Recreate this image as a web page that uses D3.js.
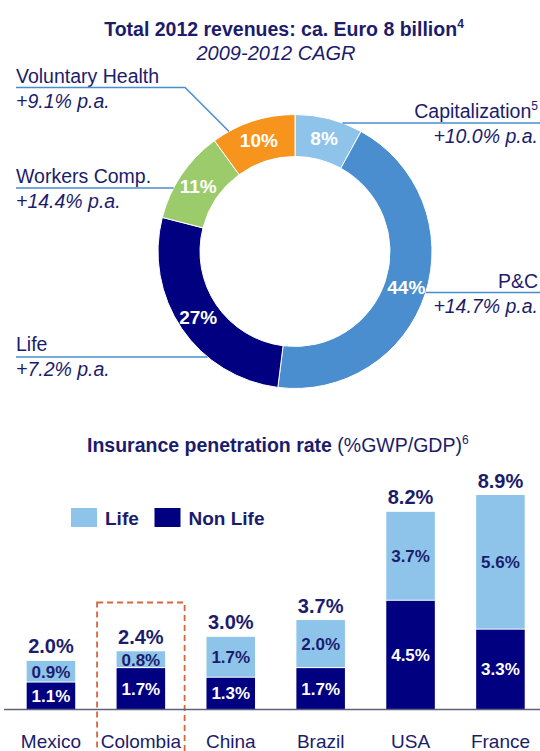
<!DOCTYPE html>
<html lang="en">
<head>
<meta charset="UTF-8">
<title>Revenues and insurance penetration</title>
<script src="https://d3js.org/d3.v7.min.js"></script>
<style>
    body { margin: 0; background: #fff; }
    svg text { font-family: "Liberation Sans", Arial, sans-serif; fill: #1c1c6c; }
    .lead { fill: none; stroke: #4a8ccf; stroke-width: 1.5px; }
</style>
</head>
<body>
<div id="chart"></div>
<script>
// donut data (clockwise from 12 o'clock)
const segNames = ["Capitalization", "P&C", "Life", "Workers Comp.", "Voluntary Health"];
const segShares = [8, 44, 27, 11, 10];
const segCagr = ["+10.0% p.a.", "+14.7% p.a.", "+7.2% p.a.", "+14.4% p.a.", "+9.1% p.a."];
const segNotes = ["5", "", "", "", ""];

// bar data
const countries = ["Mexico", "Colombia", "China", "Brazil", "USA", "France"];
const lifeRate = [0.9, 0.8, 1.7, 2.0, 3.7, 5.6];
const nonLifeRate = [1.1, 1.7, 1.3, 1.7, 4.5, 3.3];
const totalRate = [2.0, 2.4, 3.0, 3.7, 8.2, 8.9];
const highlight = "Colombia";

const W = 540, H = 751;
const svg = d3.select("#chart").append("svg")
    .attr("width", W).attr("height", H);

const navy = "#000080", lightBlue = "#8ec4ea";
const segColors = ["#8ec4ea", "#4a8ecf", "#000080", "#9bcb6b", "#f7941e"];

// ---- titles
const t1 = svg.append("text").attr("x", 284).attr("y", 36)
    .attr("text-anchor", "middle").attr("font-size", 19.5).attr("font-weight", "bold");
t1.append("tspan").text("Total 2012 revenues: ca. Euro 8 billion");
t1.append("tspan").attr("font-size", 12).attr("dy", -8).text("4");

svg.append("text").attr("x", 276).attr("y", 60)
    .attr("text-anchor", "middle").attr("font-size", 20).attr("font-style", "italic")
    .text("2009-2012 CAGR");

// ---- donut
const cx = 295, cy = 251.5, R = 137, r = 95;
const pie = d3.pie().sort(null).value(d => d.share);
const arc = d3.arc().outerRadius(R).innerRadius(r);
const labelArc = d3.arc().outerRadius(117).innerRadius(117);

const segs = segNames.map((n, i) => ({ name: n, share: segShares[i], cagr: segCagr[i], note: segNotes[i], color: segColors[i] }));
const arcs = pie(segs);

const g = svg.append("g").attr("transform", `translate(${cx},${cy})`);
g.selectAll("path.seg").data(arcs).enter().append("path")
    .attr("class", "seg")
    .attr("d", arc)
    .attr("fill", d => d.data.color)
    .attr("stroke", "#fff").attr("stroke-width", 1);

g.selectAll("text.pct").data(arcs).enter().append("text")
    .attr("class", "pct")
    .attr("transform", d => `translate(${labelArc.centroid(d)})`)
    .attr("text-anchor", "middle").attr("dy", "0.36em")
    .attr("font-size", 19).attr("font-weight", "bold")
    .style("fill", "#fff")
    .text(d => d.data.share + "%");

// label layout: side, name baseline, line y
const layout = {
    "Capitalization":   { side: "right", y: 118, line: 123 },
    "P&C":              { side: "right", y: 288, line: 292.5 },
    "Life":             { side: "left",  y: 351, line: 357 },
    "Workers Comp.":    { side: "left",  y: 183, line: 188 },
    "Voluntary Health": { side: "left",  y: 83,  line: 87.5, elbow: true }
};

arcs.forEach(d => {
    const L = layout[d.data.name];
    const right = L.side === "right";
    const tx = right ? 538 : 16;
    const anchor = right ? "end" : "start";
    const nm = svg.append("text").attr("x", tx).attr("y", L.y)
        .attr("text-anchor", anchor).attr("font-size", 19.5);
    nm.append("tspan").text(d.data.name);
    if (d.data.note) nm.append("tspan").attr("font-size", 12).attr("dy", -8).text(d.data.note);
    svg.append("text").attr("x", tx).attr("y", L.y + 24.5)
        .attr("text-anchor", anchor).attr("font-size", 19.5).attr("font-style", "italic")
        .text(d.data.cagr);

    let pts;
    if (L.elbow) {
        // hit the outer rim partway through the segment, 45deg elbow
        const a = d.startAngle + (d.endAngle - d.startAngle) * 0.2;
        const ex = cx + R * Math.sin(a), ey = cy - R * Math.cos(a);
        const bx = ex - (ey - L.line);
        pts = [[16, L.line], [bx, L.line], [ex, ey]];
    } else {
        const dx = Math.sqrt(R * R - (L.line - cy) ** 2);
        const ex = right ? cx + dx : cx - dx;
        pts = right ? [[ex, L.line], [W, L.line]] : [[16, L.line], [ex, L.line]];
    }
    svg.append("path").attr("class", "lead").attr("d", d3.line()(pts));
});

// ---- bar chart
const t2 = svg.append("text").attr("x", 87).attr("y", 452).attr("font-size", 19.5);
t2.append("tspan").attr("font-weight", "bold").text("Insurance penetration rate");
t2.append("tspan").text(" (%GWP/GDP)");
t2.append("tspan").attr("font-size", 12).attr("dy", -8).text("6");

const x = d3.scaleBand().domain(countries).range([6, 545.4])
    .paddingInner(0.46).paddingOuter(0.23);
const y = d3.scaleLinear().domain([0, d3.max(totalRate)]).range([709, 495]);

const rows = countries.map((c, i) => ({ c, life: lifeRate[i], non: nonLifeRate[i], total: totalRate[i] }));

// highlight box
svg.append("rect")
    .attr("x", x(highlight) - 19.5).attr("y", 602.5)
    .attr("width", x.bandwidth() + 39).attr("height", 170)
    .attr("fill", "none").attr("stroke", "#d9663a").attr("stroke-width", 1.8)
    .attr("stroke-dasharray", "6,4");

const bars = svg.append("g");
bars.selectAll("rect.non").data(rows).enter().append("rect")
    .attr("x", d => x(d.c)).attr("width", x.bandwidth())
    .attr("y", d => y(d.non)).attr("height", d => y(0) - y(d.non))
    .attr("fill", navy);
bars.selectAll("rect.life").data(rows).enter().append("rect")
    .attr("x", d => x(d.c)).attr("width", x.bandwidth())
    .attr("y", d => y(d.total)).attr("height", d => y(d.non) - y(d.total) - 1)
    .attr("fill", lightBlue);

bars.selectAll("text.non").data(rows).enter().append("text")
    .attr("x", d => x(d.c) + x.bandwidth() / 2)
    .attr("y", d => (y(0) + y(d.non)) / 2).attr("dy", "0.36em")
    .attr("text-anchor", "middle").attr("font-size", 17).attr("font-weight", "bold")
    .style("fill", "#fff")
    .text(d => d3.format(".1f")(d.non) + "%");
bars.selectAll("text.life").data(rows).enter().append("text")
    .attr("x", d => x(d.c) + x.bandwidth() / 2)
    .attr("y", d => (y(d.non) + y(d.total)) / 2).attr("dy", "0.36em")
    .attr("text-anchor", "middle").attr("font-size", 17).attr("font-weight", "bold")
    .text(d => d3.format(".1f")(d.life) + "%");
bars.selectAll("text.tot").data(rows).enter().append("text")
    .attr("x", d => x(d.c) + x.bandwidth() / 2)
    .attr("y", d => y(d.total) - 7.5)
    .attr("text-anchor", "middle").attr("font-size", 20).attr("font-weight", "bold")
    .text(d => d3.format(".1f")(d.total) + "%");

// baseline + categories
svg.append("line").attr("x1", 4).attr("x2", W).attr("y1", y(0) + 0.5).attr("y2", y(0) + 0.5)
    .attr("stroke", "#5f5f7d").attr("stroke-width", 1.6);
svg.selectAll("text.cat").data(countries).enter().append("text")
    .attr("x", d => x(d) + x.bandwidth() / 2).attr("y", 748)
    .attr("text-anchor", "middle").attr("font-size", 19)
    .text(d => d);

// legend
const legend = [{ k: "Life", c: lightBlue, x: 71 }, { k: "Non Life", c: navy, x: 154.5 }];
legend.forEach(l => {
    svg.append("rect").attr("x", l.x).attr("y", 508).attr("width", 26).attr("height", 19).attr("fill", l.c);
    svg.append("text").attr("x", l.x + 34).attr("y", 524.5)
        .attr("font-size", 19).attr("font-weight", "bold").text(l.k);
});
</script>
</body>
</html>
